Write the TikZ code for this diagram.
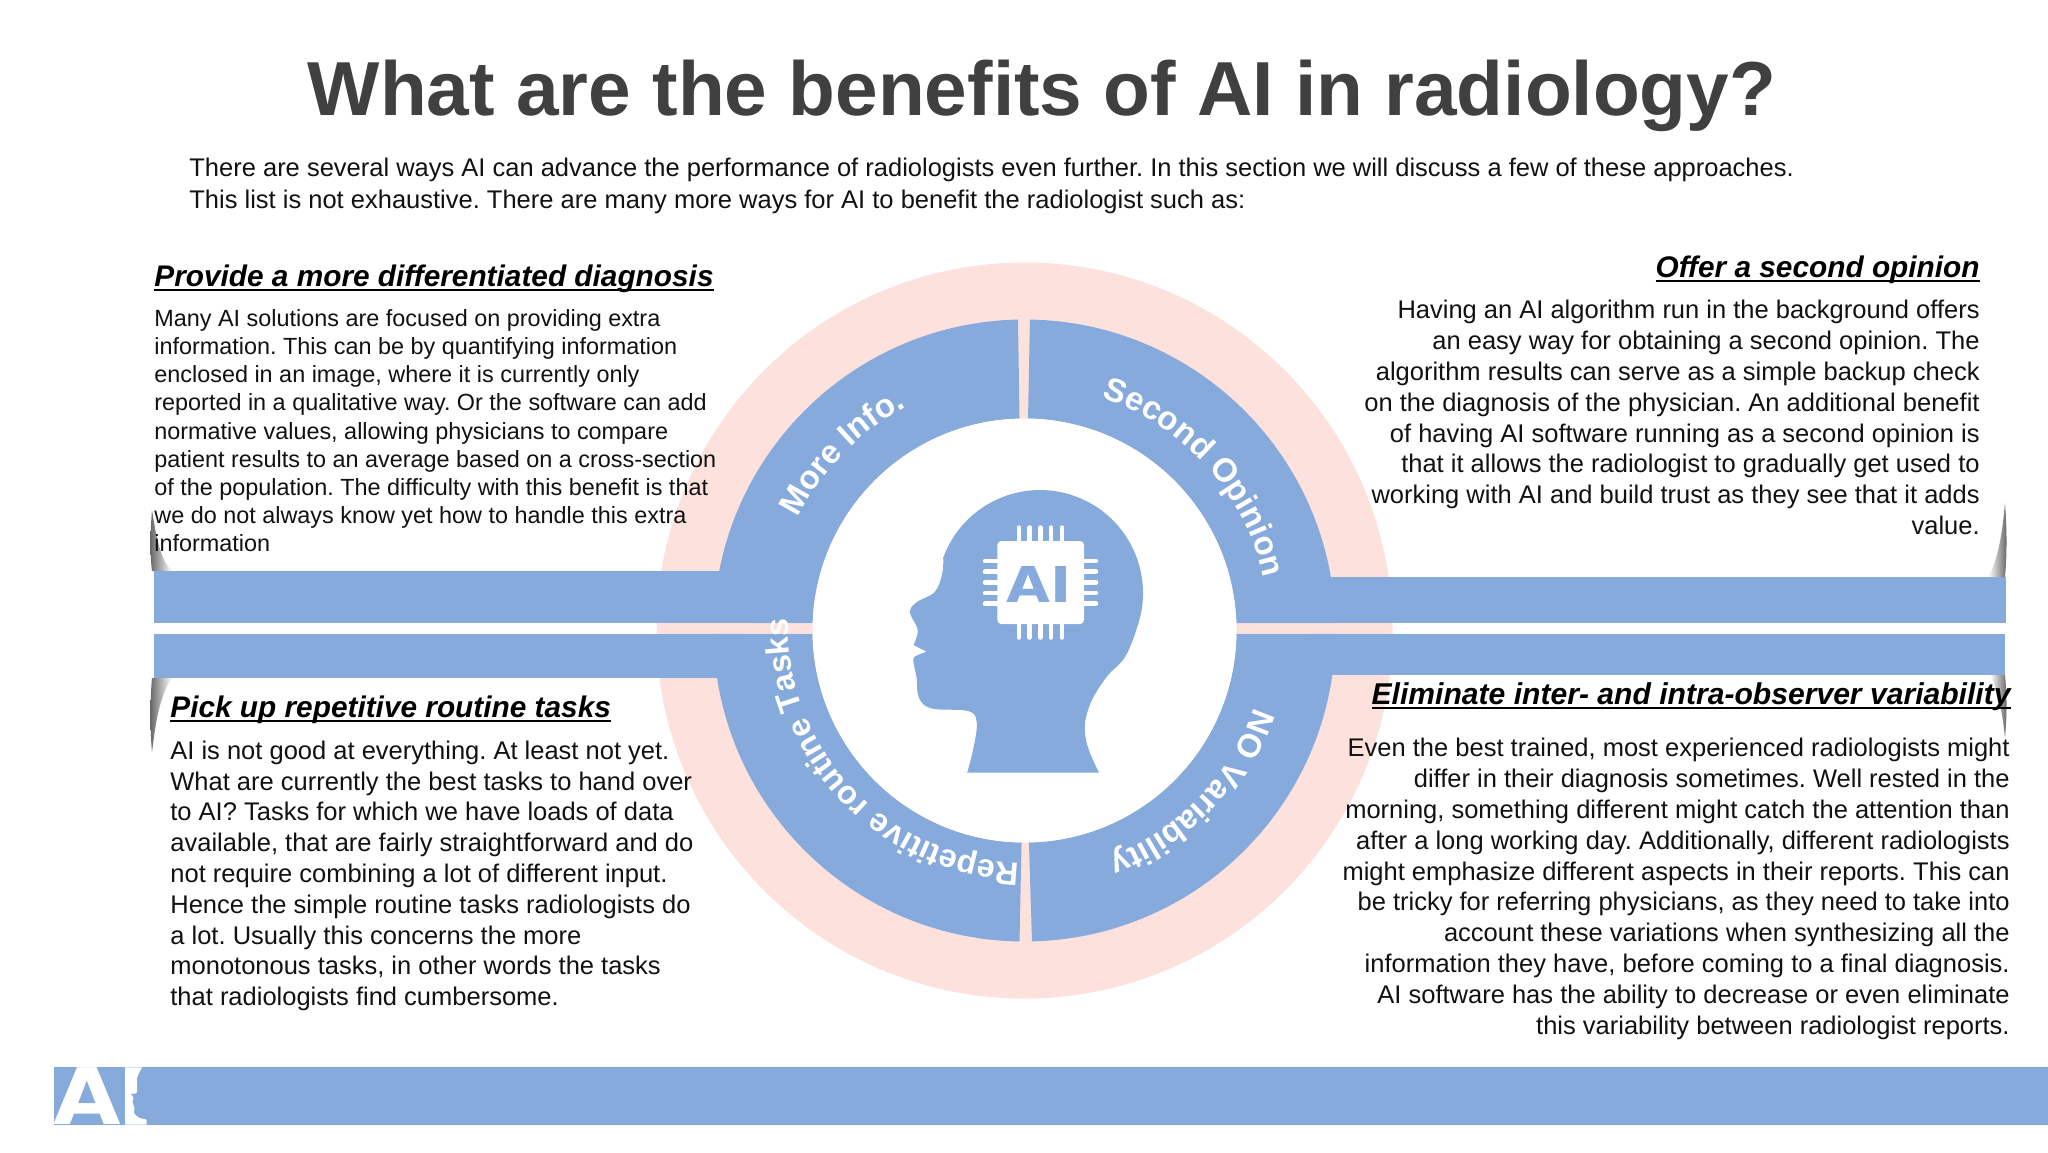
\documentclass[tikz,border=0pt]{standalone}
\usepackage{fontspec}
\setmainfont{Liberation Sans}
\newfontfamily\heavyfont{DejaVu Sans}[BoldFont={DejaVu Sans Bold}]
\usetikzlibrary{calc,decorations.text}
\frenchspacing
\definecolor{ringblue}{RGB}{133,170,219}
\definecolor{ringpink}{RGB}{253,225,221}
\definecolor{titlegray}{RGB}{64,64,64}
\definecolor{bodyink}{RGB}{17,17,17}
\newcommand\hdline[1]{\setbox0\hbox{#1}\rlap{\vrule width\wd0 height -0.09em depth 0.17em}\box0}
\newcommand\ringfont{\fontsize{16.5}{18}\selectfont\bfseries\color{white}}
\newcommand\ringfontb{\fontsize{16.2}{18}\selectfont\bfseries\color{white}}
\newcommand\sector[4]{\fill[ringblue] ($(c)+(#1:155.5pt)$) arc[start angle=#1,end angle=#2,radius=155.5pt] -- ($(c)+(#3:106pt)$) arc[start angle=#3,end angle=#4,radius=106pt] -- cycle;}
\tikzset{
  bodytext/.style={inner sep=0pt,text=bodyink,font=\fontsize{12.75}{15.4}\selectfont},
  smalltext/.style={inner sep=0pt,text=bodyink,font=\fontsize{11.7}{14.1}\selectfont},
  headtext/.style={inner sep=0pt,text=black,font=\fontsize{14.9}{18}\selectfont\bfseries\itshape},
  pin/.style={draw=white,line width=2.25pt,line cap=round},
  fadeleft/.style={left color=black!60,right color=white},
  faderight/.style={right color=black!60,left color=white}
}
\begin{document}
\begin{tikzpicture}[x=0.5pt,y=-0.5pt]
\useasboundingbox (0,0) rectangle (2048,1152);
\fill[white] (0,0) rectangle (2048,1152);
\coordinate (c) at (1024.5,630.5);
\coordinate (cb) at (1026,625);
% scan shadows
\shade[fadeleft] (152,510) .. controls (150,535) and (150,555) .. (152,571) -- (172,571) .. controls (160,560) and (156,535) .. (152,510) -- cycle;
\shade[fadeleft] (152,678) -- (172,678) .. controls (160,695) and (156,720) .. (152,752) .. controls (150,730) and (150,700) .. (152,678) -- cycle;
\shade[faderight] (2005,503) .. controls (2007,530) and (2007,555) .. (2005,577) -- (1988,577) .. controls (1998,560) and (2002,535) .. (2005,503) -- cycle;
\shade[faderight] (2005,675) -- (1990,675) .. controls (1998,690) and (2002,710) .. (2005,738) .. controls (2007,715) and (2007,695) .. (2005,675) -- cycle;
% rings
\fill[ringpink] (c) circle[radius=184pt];
\sector{91.2}{178.6}{178.0}{91.35}
\sector{89.0}{1.38}{2.0}{89.05}
\sector{-0.64}{-88.62}{-88.8}{-0.95}
\sector{180.64}{269.08}{269.2}{180.95}
\fill[ringblue] (154,571) rectangle (760,623);
\fill[ringblue] (154,634) rectangle (760,678);
\fill[ringblue] (1300,577) rectangle (2006,623);
\fill[ringblue] (1300,634) rectangle (2005,675);
\fill[white] (c) circle[radius=106pt];
\path[decorate,decoration={text along path,text align=left,text={|\ringfont|More Info.}}] ($(c)+(153.5:126.5pt)$) arc[start angle=153.5,end angle=98,radius=126.5pt];
\path[decorate,decoration={text along path,text align=left,text={|\ringfont|Second Opinion}}] ($(c)+(71.6:122.5pt)$) arc[start angle=71.6,end angle=0,radius=122.5pt];
\path[decorate,decoration={text along path,text align=left,text={|\ringfont|NO Variability}}] ($(c)+(-18.4:121pt)$) arc[start angle=-18.4,end angle=-95,radius=121pt];
\path[decorate,decoration={text along path,text align=left,text={|\ringfontb|Repetitive routine Tasks}}] ($(cb)+(268.5:119pt)$) arc[start angle=268.5,end angle=160,radius=119pt];
% head
\fill[ringblue] plot[smooth,tension=.6] coordinates {(967.2,772.5) (973.5,748) (976.7,722) (968,711) (932,708.5) (919,698) (916.5,677) (913.3,660) (917,655.5) (926.7,651.7)}
 -- plot[smooth,tension=.6] coordinates {(913.5,645) (917.7,630) (910,612) (917,602) (935,591.7) (942.3,573.3) (943.2,557.8)}
 arc[start angle=160,end angle=-20,radius=51.5pt]
 -- plot[smooth,tension=.7] coordinates {(1136.8,628.2) (1125,657) (1105,679) (1088,710) (1086,740) (1099,772.5)} -- cycle;
% chip
\fill[white,rounded corners=2pt] (997.3,541) rectangle (1084,624);
\foreach \px in {1019,1029.7,1040.3,1051,1062}{
  \draw[pin] (\px,527.5) -- (\px,545);
  \draw[pin] (\px,620) -- (\px,637.5);
}
\foreach \py in {561,571.7,582.3,593,603.7}{
  \draw[pin] (985,\py) -- (1002,\py);
  \draw[pin] (1080,\py) -- (1096,\py);
}
\node[inner sep=0pt,anchor=base,text=ringblue,xscale=1.15,font=\heavyfont\fontsize{24.7}{26}\selectfont\bfseries] (chipai) at (1039,602) {AI};
% footer
\fill[ringblue] (54,1067.3) rectangle (2048,1124.7);
\fill[white] plot[smooth,tension=.5] coordinates {(142,1067.3) (137,1078) (137,1084) (136.5,1093) (130.7,1093.5)} -- plot[smooth,tension=.5] coordinates {(130.7,1093.5) (133.5,1098) (132.5,1102) (134.5,1108) (134,1113) (139.5,1118) (146,1119.5) (146.7,1124.7)} -- (125,1124.7) -- (125,1067.3) -- cycle;
\begin{scope}
\clip (54,1067.3) rectangle (2048,1124.7);
\node[inner sep=0pt,anchor=base,text=white,xscale=1.12,font=\heavyfont\fontsize{39}{40}\selectfont\bfseries] (logoa) at (87.8,1124.7) {A};
\end{scope}
% text
\node[inner sep=0pt,anchor=base,text=titlegray,font=\fontsize{38.3}{44}\selectfont\bfseries] (title) at (1042,115) {What are the benefits of AI in radiology?};
\node[inner sep=0pt,text=bodyink,font=\fontsize{12.75}{15.65}\selectfont,anchor=north west,align=left] (intro) at (189,158) {There are several ways AI can advance the performance of radiologists even further. In this section we will discuss a few of these approaches.\\This list is not exhaustive. There are many more ways for AI to benefit the radiologist such as:};
\node[headtext,anchor=base west] (h1) at (154,286) {\hdline{Provide a more differentiated diagnosis}};
\node[smalltext,anchor=north west,align=left] (b1) at (154,309) {Many AI solutions are focused on providing extra\\information. This can be by quantifying information\\enclosed in an image, where it is currently only\\reported in a qualitative way. Or the software can add\\normative values, allowing physicians to compare\\patient results to an average based on a cross-section\\of the population. The difficulty with this benefit is that\\we do not always know yet how to handle this extra\\information};
\node[headtext,anchor=base east] (h2) at (1980,277) {\hdline{Offer a second opinion}};
\node[bodytext,anchor=north east,align=right] (b2) at (1980,300) {Having an AI algorithm run in the background offers\\an easy way for obtaining a second opinion. The\\algorithm results can serve as a simple backup check\\on the diagnosis of the physician. An additional benefit\\of having AI software running as a second opinion is\\that it allows the radiologist to gradually get used to\\working with AI and build trust as they see that it adds\\value.};
\node[headtext,anchor=base west] (h3) at (170,717) {\hdline{Pick up repetitive routine tasks}};
\node[bodytext,anchor=north west,align=left] (b3) at (170,740.5) {AI is not good at everything. At least not yet.\\What are currently the best tasks to hand over\\to AI? Tasks for which we have loads of data\\available, that are fairly straightforward and do\\not require combining a lot of different input.\\Hence the simple routine tasks radiologists do\\a lot. Usually this concerns the more\\monotonous tasks, in other words the tasks\\that radiologists find cumbersome.};
\node[headtext,anchor=base east,font=\fontsize{15.05}{18}\selectfont\bfseries\itshape] (h4) at (2011,704) {\hdline{Eliminate inter- and intra-observer variability}};
\node[bodytext,anchor=north east,align=right] (b4) at (2010,738) {Even the best trained, most experienced radiologists might\\differ in their diagnosis sometimes. Well rested in the\\morning, something different might catch the attention than\\after a long working day. Additionally, different radiologists\\might emphasize different aspects in their reports. This can\\be tricky for referring physicians, as they need to take into\\account these variations when synthesizing all the\\information they have, before coming to a final diagnosis.\\AI software has the ability to decrease or even eliminate\\this variability between radiologist reports.};
\end{tikzpicture}
\end{document}
